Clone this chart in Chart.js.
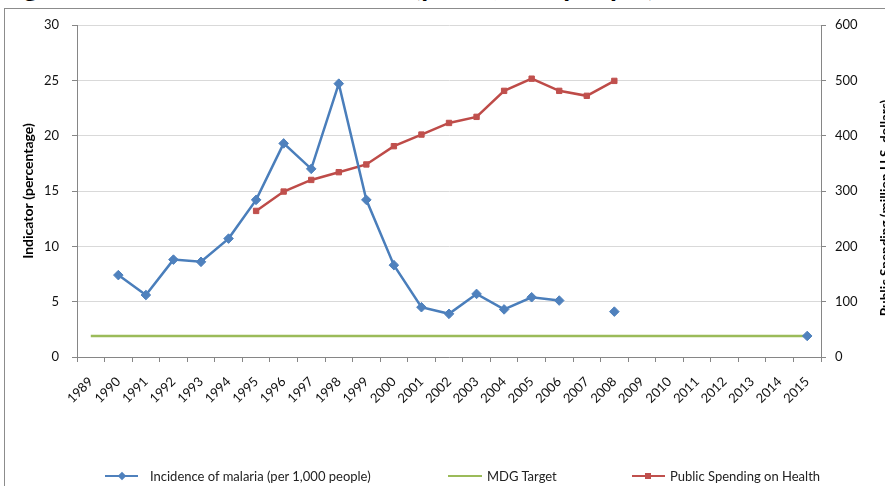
<!DOCTYPE html>
<html>
<head>
<meta charset="utf-8">
<script src="https://cdn.jsdelivr.net/npm/chart.js@4/dist/chart.umd.min.js"></script>
<style>
html,body{margin:0;padding:0;background:#fff;overflow:hidden;}
#wrap{position:relative;width:885px;height:486px;overflow:hidden;font-family:Lato,"Liberation Sans",sans-serif;}
#frame{position:absolute;left:4px;top:8px;width:920px;height:520px;border-left:1px solid #8c8c8c;border-top:1px solid #8c8c8c;box-sizing:border-box;}
#title{position:absolute;left:0;top:-29px;font-weight:bold;font-size:28px;line-height:28px;word-spacing:8px;white-space:nowrap;color:#000;}
#chartBox{position:absolute;left:0;top:0;width:885px;height:486px;}
#rtitle{position:absolute;width:330px;height:16px;line-height:16px;font-weight:bold;font-size:13.5px;color:#000;text-align:center;white-space:nowrap;left:720px;top:200px;transform:rotate(-90deg);transform-origin:50% 50%;}
.legtext{position:absolute;top:468px;height:16px;line-height:16px;font-size:13px;color:#222;white-space:nowrap;}
.legline{position:absolute;height:2px;top:475px;}
.mk{position:absolute;width:6px;height:6px;}
</style>
</head>
<body>
<div id="wrap">
  <div id="frame"></div>
  <div id="title">Figure 6: Incidence of Malaria (per 1,000 people)</div>
  <div id="chartBox"><canvas id="c" width="885" height="486"></canvas></div>
  <div id="rtitle">Public Spending (million U.S. dollars)</div>

  <div class="legline" style="left:105px;width:33px;background:#4F81BD;"></div>
  <div class="mk" style="left:119px;top:473px;background:#4F81BD;transform:rotate(45deg);"></div>
  <div class="legtext" style="left:150px;">Incidence of malaria (per 1,000 people)</div>

  <div class="legline" style="left:448px;width:34px;background:#9BBB59;"></div>
  <div class="legtext" style="left:487px;">MDG Target</div>

  <div class="legline" style="left:632px;width:33px;background:#C0504D;"></div>
  <div class="mk" style="left:645px;top:473px;background:#C0504D;"></div>
  <div class="legtext" style="left:670px;">Public Spending on Health</div>
</div>
<script>
const years = ['1989','1990','1991','1992','1993','1994','1995','1996','1997','1998','1999','2000','2001','2002','2003','2004','2005','2006','2007','2008','2009','2010','2011','2012','2013','2014','2015'];
const malaria = [null,7.4,5.6,8.8,8.6,10.7,14.2,19.3,17.0,24.7,14.2,8.3,4.5,3.9,5.7,4.3,5.4,5.1,null,4.1,null,null,null,null,null,null,1.9];
const mdgTarget = [1.9,1.9,1.9,1.9,1.9,1.9,1.9,1.9,1.9,1.9,1.9,1.9,1.9,1.9,1.9,1.9,1.9,1.9,1.9,1.9,1.9,1.9,1.9,1.9,1.9,1.9,1.9];
const spending = [null,null,null,null,null,null,264,299,320,334,348,381,402,423,434,481,503,481,472,499,null,null,null,null,null,null,null];
const leftTicks = [0,5,10,15,20,25,30];
const rightTicks = [0,100,200,300,400,500,600];

const axisGray = '#868686';
const tickFont = {family:'Lato', size:13};

new Chart(document.getElementById('c'), {
  type: 'line',
  data: {
    labels: years,
    datasets: [
      {label:'Incidence of malaria (per 1,000 people)', data: malaria, yAxisID:'y',
       borderColor:'#4A7EBB', backgroundColor:'#4F81BD', borderWidth:2.5,
       pointStyle:'rectRot', pointRadius:4.8, pointBorderWidth:1, pointBorderColor:'#4F81BD', pointBackgroundColor:'#4F81BD',
       spanGaps:false, tension:0},
      {label:'MDG Target', data: mdgTarget, yAxisID:'y',
       borderColor:'#9BBB59', borderWidth:2.5, pointRadius:0, tension:0},
      {label:'Public Spending on Health', data: spending, yAxisID:'y1',
       borderColor:'#BE4B48', backgroundColor:'#C0504D', borderWidth:2.5,
       pointStyle:'rect', pointRadius:3.8, pointBorderWidth:1, pointBorderColor:'#C0504D', pointBackgroundColor:'#C0504D',
       spanGaps:false, tension:0}
    ]
  },
  options: {
    responsive:false, animation:false, devicePixelRatio:1,
    layout:{padding:{left:20, top:25, right:0, bottom:69}},
    plugins:{legend:{display:false}, tooltip:{enabled:false}, title:{display:false}},
    scales:{
      x:{
        type:'category', offset:true,
        grid:{offset:true, drawOnChartArea:false, tickLength:5, color:axisGray, tickColor:axisGray},
        border:{color:axisGray},
        ticks:{minRotation:45, maxRotation:45, autoSkip:false, font:tickFont, color:'#111', padding:12},
        afterFit:(s)=>{s.height=60;}
      },
      y:{
        position:'left', min:0, max:30,
        afterBuildTicks:(s)=>{s.ticks = leftTicks.map(v=>({value:v}));},
        grid:{color:'#D9D9D9', tickColor:axisGray, tickLength:5},
        border:{color:axisGray},
        ticks:{font:tickFont, color:'#111', padding:13},
        title:{display:true, text:'Indicator (percentage)', font:{family:'Lato', size:14, weight:'bold'}, color:'#000', padding:{top:0,bottom:0}},
        afterFit:(s)=>{s.width=57;}
      },
      y1:{
        position:'right', min:0, max:600,
        afterBuildTicks:(s)=>{s.ticks = rightTicks.map(v=>({value:v}));},
        grid:{drawOnChartArea:false, color:axisGray, tickColor:axisGray, tickLength:5},
        border:{color:axisGray},
        ticks:{font:tickFont, color:'#111', padding:9},
        afterFit:(s)=>{s.width=64;}
      }
    }
  }
});
</script>
</body>
</html>
